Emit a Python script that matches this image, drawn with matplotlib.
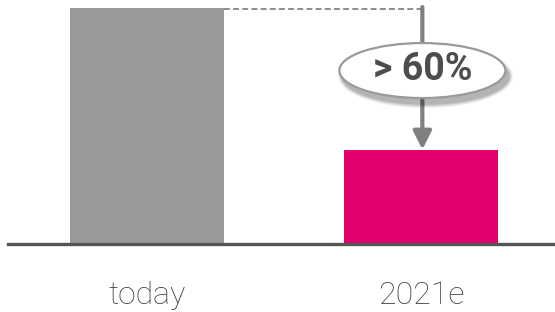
import matplotlib
matplotlib.use('Agg')
import matplotlib.pyplot as plt
from matplotlib.patches import Ellipse

categories = ['today', '2021e']
values = [100, 40]
bar_colors = ['#999999', '#e2006f']
callout = '> 60%'

FONT = ['Roboto', 'DejaVu Sans']

fig = plt.figure(figsize=(5.55, 3.12), dpi=100)
ax = fig.add_axes([8 / 555, 68 / 312, 547 / 555, 244 / 312])

x = range(len(categories))
ax.bar(x, values, width=0.56, color=bar_colors, zorder=2)
ax.set_xlim(-0.507, 1.489)
ax.set_ylim(0, 103.4)

for s in ['top', 'right', 'left']:
    ax.spines[s].set_visible(False)
ax.spines['bottom'].set_color('#555555')
ax.spines['bottom'].set_linewidth(2.4)
ax.set_yticks([])
ax.set_xticks(list(x))
ax.set_xticklabels(categories, family=FONT, fontsize=23, fontweight='light',
                   color='#3f3f3f')
ax.tick_params(axis='x', length=0, pad=27)

# dashed reference line from first bar top to arrow
ax.plot([0.28, 1.005], [values[0] - 0.3, values[0] - 0.3], ls=(0, (3.5, 2)),
        color='#7a7a7a', lw=1.2, zorder=1, clip_on=False)
# arrow down to second bar
ax.annotate('', xy=(1.005, values[1]), xytext=(1.005, values[0] + 0.4),
            arrowprops=dict(arrowstyle='-|>,head_width=0.55,head_length=1.1',
                            color='#808080', lw=3, shrinkA=0, shrinkB=0),
            zorder=3)

# ellipse callout with shadow
ex, ey = 1.005, 73.5
ew, eh = 166 / 274, 55 / 236 * 100
for i, a in enumerate([0.05, 0.07, 0.09, 0.11]):
    grow = (4 - i) * 0.008
    ax.add_patch(Ellipse((ex + 0.012, ey - 2.4), ew + grow, eh + grow * 120,
                         facecolor='#000000', alpha=a, edgecolor='none', zorder=4))
ax.add_patch(Ellipse((ex, ey), ew, eh, facecolor='white', edgecolor='#9a9a9a',
                     lw=1.6, zorder=5))
ax.text(ex, ey + 0.5, callout, ha='center', va='center', fontsize=27,
        fontweight='bold', family=FONT, color='#4d4d4d', zorder=6)

fig.savefig('out.png', dpi=100)
